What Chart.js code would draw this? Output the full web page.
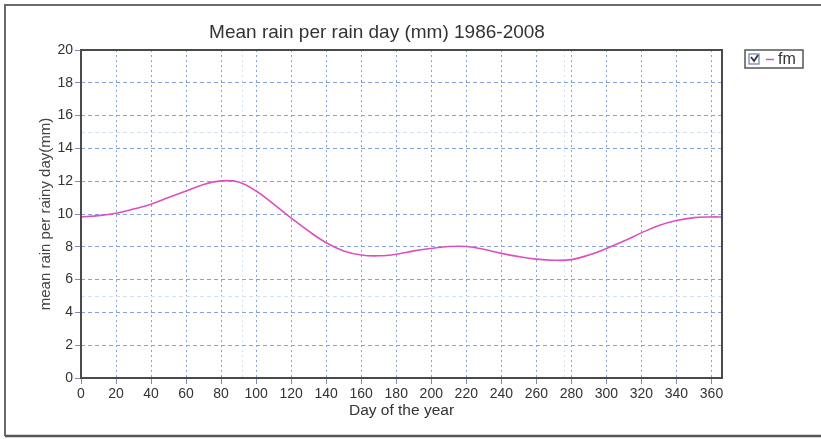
<!DOCTYPE html>
<html>
<head>
<meta charset="utf-8">
<script src="https://cdn.jsdelivr.net/npm/chart.js@4/dist/chart.umd.min.js"></script>
<style>
  html, body { margin: 0; padding: 0; background: #fff; }
  #wrap { position: relative; width: 821px; height: 439px; }
</style>
</head>
<body>
<div id="wrap"><canvas id="c" width="821" height="439"></canvas></div>
<script>
// Mean rain per rain day, smoothed over the year (1986-2008)
const days = [0, 10, 20, 30, 40, 50, 60, 70, 80, 90, 100, 110, 120, 130, 140, 150, 160, 170, 180,
  190, 200, 210, 220, 230, 240, 250, 260, 270, 280, 290, 300, 310, 320, 330, 340, 350, 360, 366];
const meanRain = [9.82, 9.9, 10.05, 10.3, 10.6, 11.0, 11.4, 11.8, 12.02, 11.95, 11.4, 10.6, 9.75,
  8.95, 8.25, 7.75, 7.5, 7.45, 7.55, 7.75, 7.9, 8.02, 8.02, 7.85, 7.6, 7.4, 7.25, 7.18, 7.22,
  7.5, 7.9, 8.35, 8.85, 9.3, 9.6, 9.78, 9.82, 9.82];
const xTicks = [0, 20, 40, 60, 80, 100, 120, 140, 160, 180, 200, 220, 240, 260, 280, 300, 320, 340, 360];
const yTicks = [0, 2, 4, 6, 8, 10, 12, 14, 16, 18, 20];
const xFaint = [92, 276];
const yFaint = [5, 15];

const chartTitle = 'Mean rain per rain day (mm) 1986-2008';
const seriesName = 'fm';
const FONT = "'Liberation Sans', Arial, sans-serif";
const TEXT = '#333';
const GRID = '#85a5da';
const LINE = '#db4fbf';

// frame, title and legend box drawn on top of the chart
const decorations = {
  id: 'decorations',
  afterDraw(chart) {
    const ctx = chart.ctx;
    const a = chart.chartArea;
    ctx.save();
    // outer border
    ctx.strokeStyle = '#6a6a6a';
    ctx.lineWidth = 2;
    ctx.beginPath();
    ctx.moveTo(5, 436);
    ctx.lineTo(5, 5);
    ctx.lineTo(821, 5);
    ctx.stroke();
    ctx.lineWidth = 2.5;
    ctx.strokeStyle = '#555';
    ctx.beginPath();
    ctx.moveTo(5, 436);
    ctx.lineTo(821, 436);
    ctx.stroke();

    // plot frame
    ctx.strokeStyle = '#4a4a4a';
    ctx.lineWidth = 2;
    ctx.strokeRect(a.left, a.top, a.right - a.left, a.bottom - a.top);

    // title
    ctx.fillStyle = TEXT;
    ctx.font = '19px ' + FONT;
    ctx.textAlign = 'center';
    ctx.textBaseline = 'middle';
    ctx.fillText(chartTitle, 377, 33);

    // legend
    const lx = 745, ly = 50, lw = 58, lh = 18;
    ctx.strokeStyle = '#555';
    ctx.lineWidth = 1.5;
    ctx.strokeRect(lx, ly, lw, lh);
    // checkbox
    ctx.strokeStyle = '#6b7fa8';
    ctx.lineWidth = 1.2;
    ctx.strokeRect(lx + 4, ly + 4, 10, 10);
    ctx.strokeStyle = '#333';
    ctx.lineWidth = 1.8;
    ctx.beginPath();
    ctx.moveTo(lx + 6, ly + 7);
    ctx.lineTo(lx + 9, ly + 11);
    ctx.lineTo(lx + 13, ly + 5);
    ctx.stroke();
    // series swatch
    ctx.strokeStyle = LINE;
    ctx.lineWidth = 1.5;
    ctx.beginPath();
    ctx.moveTo(lx + 21, ly + 9.5);
    ctx.lineTo(lx + 29, ly + 9.5);
    ctx.stroke();
    ctx.fillStyle = TEXT;
    ctx.font = '16px ' + FONT;
    ctx.textAlign = 'left';
    ctx.fillText(chart.data.datasets[0].label, lx + 33, ly + 10);
    ctx.restore();
  }
};

new Chart(document.getElementById('c'), {
  type: 'line',
  data: {
    datasets: [{
      label: seriesName,
      data: days.map((d, i) => ({ x: d, y: meanRain[i] })),
      borderColor: LINE,
      borderWidth: 1.6,
      pointRadius: 0,
      tension: 0.4,
      fill: false
    }]
  },
  options: {
    responsive: false,
    animation: false,
    layout: { padding: { left: 0, right: 99, top: 50, bottom: 0 } },
    plugins: {
      legend: { display: false },
      title: { display: false },
      tooltip: { enabled: false }
    },
    scales: {
      x: {
        type: 'linear',
        min: 0,
        max: 366,
        afterBuildTicks: s => { s.ticks = xTicks.map(v => ({ value: v })); },
        afterFit: s => { s.height = 61; },
        ticks: { color: TEXT, font: { family: FONT, size: 14 }, padding: 2, maxRotation: 0, autoSkip: false },
        grid: { color: GRID, lineWidth: 1, tickLength: 6, tickColor: '#7a8fb8' },
        border: { display: false, dash: [2, 3] },
        title: {
          display: true, text: 'Day of the year', color: TEXT,
          font: { family: FONT, size: 15.5 }, padding: { top: 0, bottom: 19 }
        }
      },
      xf: {
        type: 'linear',
        position: 'bottom',
        min: 0,
        max: 366,
        display: true,
        afterBuildTicks: s => { s.ticks = xFaint.map(v => ({ value: v })); },
        afterFit: s => { s.height = 0; },
        ticks: { display: false },
        grid: { color: '#d3e2f2', drawTicks: false },
        border: { display: false, dash: [2, 3] }
      },
      y: {
        min: 0,
        max: 20,
        afterBuildTicks: s => { s.ticks = yTicks.map(v => ({ value: v })); },
        afterFit: s => { s.width = 81; },
        ticks: { color: TEXT, font: { family: FONT, size: 14 }, padding: 2 },
        grid: { color: GRID, lineWidth: 1, tickLength: 6, tickColor: '#7a8fb8' },
        border: { display: false, dash: [4, 3] },
        title: {
          display: true, text: 'mean rain per rainy day(mm)', color: '#444',
          font: { family: FONT, size: 15 }, padding: { top: 37, bottom: 0 }
        }
      },
      yf: {
        position: 'left',
        min: 0,
        max: 20,
        afterBuildTicks: s => { s.ticks = yFaint.map(v => ({ value: v })); },
        afterFit: s => { s.width = 0; },
        ticks: { display: false },
        grid: { color: '#d3e2f2', drawTicks: false },
        border: { display: false, dash: [4, 3] }
      }
    }
  },
  plugins: [decorations]
});
</script>
</body>
</html>
